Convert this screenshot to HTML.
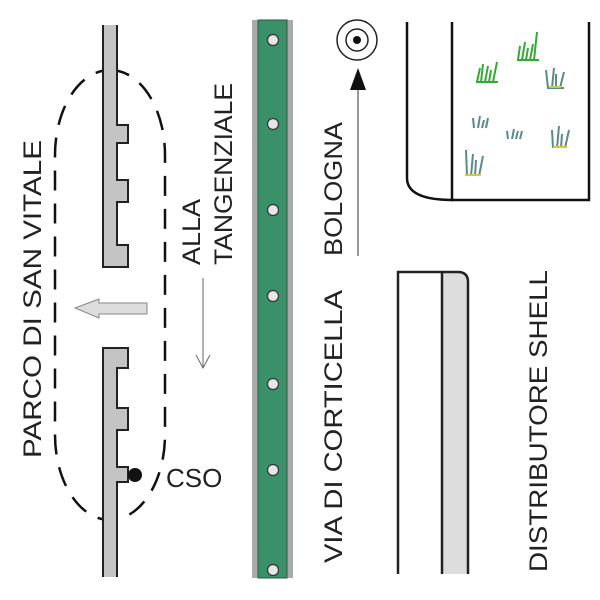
<!DOCTYPE html>
<html><head><style>body{margin:0;background:#fff}svg{display:block}text{font-family:"Liberation Sans",Arial,sans-serif}</style></head><body>
<svg width="600" height="600" viewBox="0 0 600 600" xmlns="http://www.w3.org/2000/svg">
<rect width="600" height="600" fill="#fff"/>
<rect x="55" y="70" width="110" height="450" rx="55" ry="85" fill="none" stroke="#111" stroke-width="2.5" stroke-dasharray="20,13"/>
<path d="M103,25 V267 H128 V245 H117 V202 H128 V180 H117 V143 H128 V125 H117 V25" fill="#c4c4c4" stroke="#222" stroke-width="2"/>
<path d="M103,577 V348 H128 V368 H117 V408 H128 V430 H117 V467 H128 V482 H117 V577" fill="#c4c4c4" stroke="#222" stroke-width="2"/>
<circle cx="135" cy="475" r="7" fill="#111"/>
<text x="166" y="487" font-size="26" fill="#222">CSO</text>
<path d="M75,308 L99,299 V303 H147 V314 H99 V318 Z" fill="#ddd" stroke="#888" stroke-width="1"/>
<line x1="203" y1="278" x2="203" y2="368" stroke="#666" stroke-width="1"/>
<path d="M196,355 L203,368 L210,355" fill="none" stroke="#666" stroke-width="1"/>
<text transform="translate(41,458) rotate(-90)" font-size="25" fill="#222" textLength="318" lengthAdjust="spacingAndGlyphs">PARCO  DI  SAN  VITALE</text>
<text transform="translate(200,265) rotate(-90)" font-size="25" fill="#222" textLength="66" lengthAdjust="spacingAndGlyphs">ALLA</text>
<text transform="translate(232,265) rotate(-90)" font-size="25" fill="#222" textLength="182" lengthAdjust="spacingAndGlyphs">TANGENZIALE</text>
<text transform="translate(342,256) rotate(-90)" font-size="25" fill="#222" textLength="134" lengthAdjust="spacingAndGlyphs">BOLOGNA</text>
<text transform="translate(342,563) rotate(-90)" font-size="25" fill="#222" textLength="273" lengthAdjust="spacingAndGlyphs">VIA  DI  CORTICELLA</text>
<text transform="translate(547,572) rotate(-90)" font-size="25" fill="#222" textLength="302" lengthAdjust="spacingAndGlyphs">DISTRIBUTORE  SHELL</text>
<rect x="252" y="20" width="41" height="558" fill="#aaa"/>
<rect x="258" y="20" width="29" height="558" fill="#3a9068" stroke="#2a5a44" stroke-width="1"/>
<g fill="#e6e6e6" stroke="#333" stroke-width="1.2">
<circle cx="273" cy="40" r="5.5"/><circle cx="273" cy="124" r="5.5"/><circle cx="273" cy="210" r="5.5"/><circle cx="273" cy="296" r="5.5"/><circle cx="273" cy="384" r="5.5"/><circle cx="273" cy="470" r="5.5"/><circle cx="273" cy="570" r="5.5"/>
</g>
<circle cx="357" cy="40" r="20" fill="none" stroke="#222" stroke-width="1.5"/>
<circle cx="357" cy="40" r="11" fill="none" stroke="#222" stroke-width="1.5"/>
<circle cx="357" cy="40" r="4" fill="#111"/>
<line x1="358" y1="256" x2="358" y2="85" stroke="#333" stroke-width="1"/>
<path d="M350,90 L358,68 L366,90 Z" fill="#111"/>
<path d="M407,22 V178 Q407,200 453,200" fill="none" stroke="#111" stroke-width="2.5"/>
<path d="M452,22 V200 H589 V22" fill="none" stroke="#111" stroke-width="2.5"/>
<g stroke-width="2" fill="none">
<g stroke="#3a3"><path d="M477,82 l3,-14 M481,82 l2,-18 M485,82 l3,-16 M489,82 l2,-12 M493,82 l4,-20 M476,82 h22"/></g>
<g stroke="#3a3"><path d="M518,60 l2,-14 M522,60 l3,-18 M526,60 l2,-12 M530,60 l3,-16 M534,60 l3,-28 M517,60 h22"/></g>
<g stroke="#5a8a8a"><path d="M548,88 l-2,-18 M552,88 l2,-20 M556,88 l0,-14 M560,88 l4,-16 M547,88 h17"/><path d="M549,87 h12" stroke="#cc4"/></g>
<g stroke="#5a8a8a"><path d="M474,128 l-1,-10 M478,128 l2,-12 M482,128 l2,-8 M486,128 l2,-10"/></g>
<g stroke="#5a8a8a"><path d="M508,139 l-1,-8 M512,139 l2,-10 M516,139 l2,-8 M520,139 l2,-8"/></g>
<g stroke="#5a8a8a"><path d="M553,148 l-1,-18 M557,148 l2,-22 M561,148 l1,-14 M565,148 l4,-18"/><path d="M553,147 h14" stroke="#cc4"/></g>
<g stroke="#5a8a8a"><path d="M467,176 l-1,-26 M471,176 l2,-22 M475,176 l1,-16 M479,176 l4,-20"/><path d="M465,175 h16" stroke="#cc4"/></g>
</g>
<path d="M442,272 H458 Q468,272 468,282 V574 H442 Z" fill="#ddd"/>
<path d="M398,574 V272 H458 Q468,272 468,282 V574" fill="none" stroke="#222" stroke-width="2.5"/>
<line x1="442" y1="272" x2="442" y2="574" stroke="#222" stroke-width="2.5"/>
</svg>
</body></html>
